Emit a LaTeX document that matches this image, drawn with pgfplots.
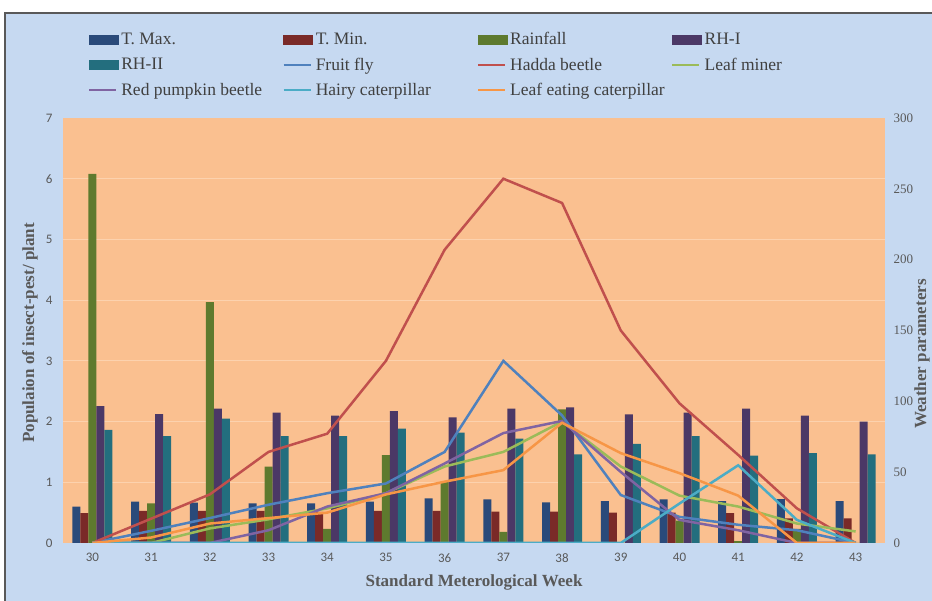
\documentclass[border=0pt]{standalone}
\usepackage{pgfplots}
\pgfplotsset{compat=1.18}
\usepackage{fontspec}
\setmainfont{Liberation Serif}
\newfontfamily\carlito{Carlito}
\definecolor{bgblue}{HTML}{C6D9F1}
\definecolor{plotor}{HTML}{FAC090}
\definecolor{gridor}{HTML}{FCD2AE}
\definecolor{tmax}{HTML}{2A4A7A}
\definecolor{tmin}{HTML}{7A2A28}
\definecolor{rain}{HTML}{5E7A2E}
\definecolor{rhone}{HTML}{4B3866}
\definecolor{rhtwo}{HTML}{236E7E}
\definecolor{ffly}{HTML}{4F81BD}
\definecolor{hadda}{HTML}{C0504D}
\definecolor{lminer}{HTML}{9BBB59}
\definecolor{rpb}{HTML}{8064A2}
\definecolor{hairy}{HTML}{4BACC6}
\definecolor{leafe}{HTML}{F79646}
\definecolor{txtgray}{HTML}{595959}
\definecolor{legtxt}{HTML}{404040}

\pgfplotstableread{
week tmax tmin rain rhone rhtwo
30 25.6 21.0 260.5 96.7 79.8
31 29.2 22.6 28.0 91.0 75.5
32 28.5 22.6 170.0 94.8 87.8
33 28.0 22.6 53.9 92.0 75.5
34 28.0 22.0 9.9 89.9 75.5
35 29.2 22.6 62.0 93.0 80.7
36 31.5 22.6 43.3 88.7 77.9
37 30.8 22.1 7.8 94.8 73.6
38 28.7 22.1 94.4 95.8 62.6
39 29.6 21.4 0.0 90.8 69.9
40 30.8 21.4 15.8 92.0 75.5
41 29.6 21.0 1.4 94.8 61.6
42 31.0 17.4 9.9 89.9 63.5
43 29.6 17.4 0.0 85.6 62.6
}\weather

\pgfplotstableread{
week ffly hadda lminer rpb hairy leafe
30 0.00 0.00 0.00 0.00 0.00 0.00
31 0.20 0.40 0.00 0.00 0.00 0.09
32 0.41 0.80 0.24 0.00 0.00 0.32
33 0.63 1.50 0.39 0.21 0.00 0.41
34 0.82 1.80 0.57 0.60 0.00 0.50
35 0.98 3.00 0.82 0.82 0.00 0.80
36 1.50 4.83 1.26 1.31 0.00 1.01
37 3.00 6.00 1.50 1.81 0.00 1.20
38 2.10 5.60 2.00 2.01 0.00 1.98
39 0.79 3.50 1.26 1.17 0.00 1.48
40 0.43 2.30 0.78 0.38 0.65 1.15
41 0.30 1.45 0.60 0.21 1.28 0.78
42 0.21 0.57 0.32 0.00 0.38 0.00
43 0.00 0.00 0.19 0.00 0.00 0.00
}\pests

\begin{document}
\begin{tikzpicture}[x=1pt,y=1pt]
\useasboundingbox (0,0) rectangle (932,601);
\begin{scope}
\clip (0,0) rectangle (932,601);
\fill[white] (0,0) rectangle (932,601);
\fill[bgblue] (5,-5) rectangle (940,588);
\draw[black!65, line width=1.3pt] (5,-5) -- (5,588) -- (940,588);

% bars on right axis
\begin{axis}[
  at={(63pt,58pt)}, anchor=south west,
  scale only axis, width=822pt, height=425pt,
  xmin=29.5, xmax=43.5, ymin=0, ymax=300,
  hide x axis,
  axis y line*=right,
  axis line style={draw=none},
  ytick={0,50,...,300},
  major tick length=0pt,
  /pgf/number format/assume math mode=true,
  yticklabel style={font=\fontsize{13}{13}\selectfont, text=txtgray, xshift=5pt},
  axis background/.style={fill=plotor},
  extra y ticks={42.857,85.714,128.571,171.429,214.286,257.143},
  extra y tick labels={},
  extra y tick style={grid=major, major grid style={gridor, line width=0.9pt}},
  ybar=0pt, bar width=8pt,
]
\addplot[fill=tmax, draw=none] table[x=week, y=tmax] {\weather};
\addplot[fill=tmin, draw=none] table[x=week, y=tmin] {\weather};
\addplot[fill=rain, draw=none] table[x=week, y=rain] {\weather};
\addplot[fill=rhone, draw=none] table[x=week, y=rhone] {\weather};
\addplot[fill=rhtwo, draw=none] table[x=week, y=rhtwo] {\weather};
\end{axis}

% lines on left axis
\begin{axis}[
  at={(63pt,58pt)}, anchor=south west,
  scale only axis, width=822pt, height=425pt,
  xmin=29.5, xmax=43.5, ymin=0, ymax=7,
  axis y line*=left, axis x line*=bottom,
  axis line style={draw=none},
  xtick={30,...,43}, ytick={0,...,7},
  major tick length=0pt,
  /pgf/number format/assume math mode=true,
  xticklabel style={font=\carlito\fontsize{13}{13}\selectfont, text=txtgray, yshift=-7pt},
  yticklabel style={font=\carlito\fontsize{13}{13}\selectfont, text=txtgray, xshift=-7pt},
  legend columns=4,
  legend style={at={(0.030,1.206)}, anchor=north west, draw=none, fill=none,
    inner sep=0pt, font=\fontsize{17.5}{20}\selectfont, text=legtxt, row sep=7.5pt,
    /tikz/every odd column/.append style={column sep=1pt}},
  legend cell align=left,
  legend image code/.code={\draw[#1, line width=2.5pt] (0pt,0pt) -- (27pt,0pt);},
]
\addlegendimage{legend image code/.code={\fill[tmax] (0pt,-4.5pt) rectangle (29pt,4.5pt);}}
\addlegendentry{\makebox[159pt][l]{T. Max.}}
\addlegendimage{legend image code/.code={\fill[tmin] (0pt,-4.5pt) rectangle (29pt,4.5pt);}}
\addlegendentry{\makebox[159pt][l]{T. Min.}}
\addlegendimage{legend image code/.code={\fill[rain] (0pt,-4.5pt) rectangle (29pt,4.5pt);}}
\addlegendentry{\makebox[159pt][l]{Rainfall}}
\addlegendimage{legend image code/.code={\fill[rhone] (0pt,-4.5pt) rectangle (29pt,4.5pt);}}
\addlegendentry{\makebox[159pt][l]{RH-I}}
\addlegendimage{legend image code/.code={\fill[rhtwo] (0pt,-4.5pt) rectangle (29pt,4.5pt);}}
\addlegendentry{\makebox[159pt][l]{RH-II}}
\addplot[ffly, line width=2.5pt, mark=none] table[x=week, y=ffly] {\pests};
\addlegendentry{\makebox[159pt][l]{Fruit fly}}
\addplot[hadda, line width=2.5pt, mark=none] table[x=week, y=hadda] {\pests};
\addlegendentry{\makebox[159pt][l]{Hadda beetle}}
\addplot[lminer, line width=2.5pt, mark=none] table[x=week, y=lminer] {\pests};
\addlegendentry{\makebox[159pt][l]{Leaf miner}}
\addplot[rpb, line width=2.5pt, mark=none] table[x=week, y=rpb] {\pests};
\addlegendentry{\makebox[159pt][l]{Red pumpkin beetle}}
\addplot[hairy, line width=2.5pt, mark=none] table[x=week, y=hairy] {\pests};
\addlegendentry{\makebox[159pt][l]{Hairy caterpillar}}
\addplot[leafe, line width=2.5pt, mark=none] table[x=week, y=leafe] {\pests};
\addlegendentry{\makebox[159pt][l]{Leaf eating caterpillar}}
\end{axis}

\node[rotate=90, anchor=north, inner sep=0pt, text=txtgray, font=\bfseries\fontsize{17}{20}\selectfont] at (22,268) {Populaion of insect-pest/ plant};
\node[anchor=center, inner sep=0pt, text=txtgray, font=\bfseries\fontsize{17}{20}\selectfont] at (474,19) {Standard Meterological Week};
\node[rotate=90, anchor=north, inner sep=0pt, text=txtgray, font=\bfseries\fontsize{17}{20}\selectfont] at (914,247) {Weather parameters};
\end{scope}
\end{tikzpicture}
\end{document}
